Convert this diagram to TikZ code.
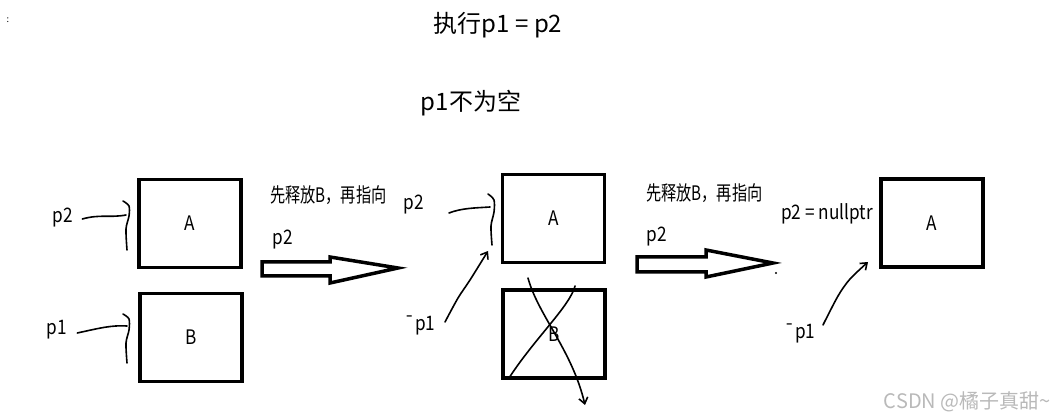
\documentclass[tikz,border=0pt]{standalone}
\usepackage{fontspec}
\setmainfont{Noto Sans CJK SC}
\usetikzlibrary{arrows.meta}
\definecolor{markgray}{RGB}{185,185,185}
\tikzset{
  box/.style={draw, line width=3.5pt, minimum width=102pt, minimum height=88pt, inner sep=0pt},
  lbl/.style={font=\fontsize{20}{24}\selectfont, inner sep=0pt, xscale=0.86, transform shape},
  note/.style={font=\fontsize{20}{24}\selectfont, inner sep=0pt, xscale=0.76, transform shape},
  head/.style={font=\fontsize{24}{28}\selectfont, inner sep=0pt},
  pen/.style={line width=1.6pt, line cap=round},
  fat/.style={line width=3.5pt, line join=miter},
  barb/.style={-{Straight Barb[length=6pt,width=9pt]}}
}
\begin{document}
\begin{tikzpicture}[x=1pt,y=-1pt]
            \useasboundingbox (0,0) rectangle (1056,419);
            % titles
            \node[inner sep=0pt, font=\small] (dots) at (8,20) {:};
            \node[head] (title) at (498,25) {执行p1 = p2};
            \node[head] (sub) at (471,103) {p1不为空};
            % first state
            \node[box] (A1) at (190,223.5) {};
            \node[box] (B1) at (191,337.5) {};
            \node[lbl] at (A1) {A};
            \node[lbl] at (B1) {B};
            \node[lbl] (p2a) at (63,218) {p2};
            \node[lbl] (p1a) at (57,330) {p1};
            \draw[pen] (p2a.east) ++(9,1) .. controls (100,214) and (110,218) .. (126,215);
            \draw[pen] plot[smooth] coordinates {(123,201) (129,206) (129,216) (126,229) (127,250)};
            \draw[pen] (p1a.east) ++(10,3) .. controls (100,328) and (112,325) .. (127,326);
            \draw[pen] plot[smooth] coordinates {(123,314) (129,319) (129,330) (126,343) (127,363)};
            % first step
            \node[note, anchor=west] (stepa) at (270,195) {先释放B，再指向};
            \node[lbl] (p2b) at (283,240) {p2};
            \draw[fat] (262,262) -- (330,262) -- (330,257) -- (398,268) -- (330,283) -- (330,276) -- (262,276) -- cycle;
            % second state
            \node[box] (A2) at (553.5,218.5) {};
            \node[box] (B2) at (554,334) {};
            \node[lbl] at (A2) {A};
            \node[lbl] at (B2) {B};
            \node[lbl] (p2c) at (414,205) {p2};
            \node[lbl] (p1c) at (420,325) {¯p1};
            \draw[pen] (449,213) .. controls (462,208) and (475,208) .. (490,207);
            \draw[pen] plot[smooth] coordinates {(488,194) (494,200) (494,212) (491,226) (492,245)};
            \draw[pen, barb] plot[smooth] coordinates {(445,322) (458,298) (470,280) (488,251)};
            % B is released
            \draw[pen, barb] (528,278) .. controls (538,315) and (572,350) .. (585,405);
            \draw[pen] (575,286) .. controls (570,306) and (535,338) .. (509,378);
            % second step
            \node[note, anchor=west] (stepb) at (646,193) {先释放B，再指向};
            \node[lbl] (p2d) at (657,237) {p2};
            \draw[fat] (637,257) -- (706,257) -- (706,250) -- (773,263) -- (706,277) -- (706,272) -- (637,272) -- cycle;
            \fill (776,273) circle (1.2pt);
            % third state
            \node[box] (A3) at (932,223) {};
            \node[lbl] at (A3) {A};
            \node[lbl] (null) at (827,214) {p2 = nullptr};
            \node[lbl] (p1e) at (800,333) {¯p1};
            \draw[pen, barb] plot[smooth] coordinates {(823,325) (838,296) (850,279) (868,262)};
            % mark
            \node[font=\fontsize{20}{24}\selectfont, inner sep=0pt, text=markgray, anchor=east] (mark) at (1051,402) {CSDN @橘子真甜\textasciitilde};
        \end{tikzpicture}
\end{document}
